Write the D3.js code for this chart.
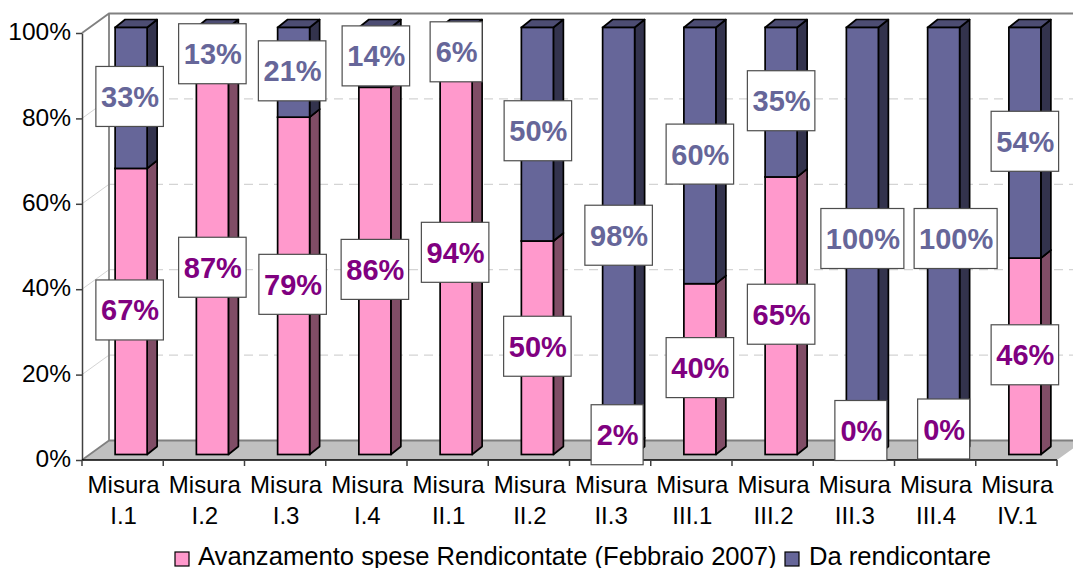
<!DOCTYPE html>
<html>
<head>
<meta charset="utf-8">
<script src="https://cdnjs.cloudflare.com/ajax/libs/d3/7.8.5/d3.min.js"></script>
<style>
  html, body { margin: 0; padding: 0; background: #fff; overflow: hidden; }
  svg { display: block; }
  text { font-family: "Liberation Sans", Arial, sans-serif; }
</style>
</head>
<body>
<svg id="chart" width="1073" height="568"></svg>
<script>
const categories = ['I.1', 'I.2', 'I.3', 'I.4', 'II.1', 'II.2', 'II.3', 'III.1', 'III.2', 'III.3', 'III.4', 'IV.1'];
const spese = [67, 87, 79, 86, 94, 50, 2, 40, 65, 0, 0, 46];
const rendicontare = [33, 13, 21, 14, 6, 50, 98, 60, 35, 100, 100, 54];
const yTicks = [0, 20, 40, 60, 80, 100];
const seriesNames = ['Avanzamento spese Rendicontate (Febbraio 2007)', 'Da rendicontare'];

const pink = '#ff99cc', pinkSide = '#804d66', pinkTop = '#bf7399';
const blue = '#666699', blueSide = '#33334d', blueTop = '#4d4d73';
const pinkText = '#800080';

// 3d offsets of the box and of each bar
const depthX = 27, depthY = -19.5;
const barDepthX = 10, barDepthY = -8;
const barWidth = 32;
const barShift = 8.5;

const svg = d3.select('#chart');

const x = d3.scaleBand().domain(categories).range([82, 1057]);
const y = d3.scaleLinear().domain([0, 100]).range([460, 33]);
// the bars stand a bit inside the floor
const yBar = d3.scaleLinear().domain([0, 100]).range([454.5, 27.5]);

const left = x.range()[0], right = x.range()[1];

// floor, walls, gridlines
const wall = svg.append('g');
wall.append('path')
  .attr('d', `M${left},${y(0)} L${left + depthX},${y(0) + depthY} L${right + depthX},${y(0) + depthY} L${right},${y(0)} Z`)
  .attr('fill', '#c0c0c0');

yTicks.filter(d => d > 0 && d < 100).forEach(d => {
  wall.append('path')
    .attr('d', `M${left},${y(d)} L${left + depthX},${y(d) + depthY}`)
    .attr('fill', 'none').attr('stroke', '#d4d4d4').attr('stroke-width', 1);
  wall.append('path')
    .attr('d', `M${left + depthX},${y(d) + depthY} L${right + depthX},${y(d) + depthY}`)
    .attr('fill', 'none').attr('stroke', '#d4d4d4').attr('stroke-width', 1.2).attr('stroke-dasharray', '9 6');
});

wall.append('path')
  .attr('d', `M${left},${y(100)} L${left + depthX},${y(100) + depthY} L${right + depthX},${y(100) + depthY}`)
  .attr('fill', 'none').attr('stroke', '#808080').attr('stroke-width', 1.8);
wall.append('path')
  .attr('d', `M${left + depthX},${y(100) + depthY} L${left + depthX},${y(0) + depthY} L${right + depthX},${y(0) + depthY} M${left},${y(0)} L${left + depthX},${y(0) + depthY}`)
  .attr('fill', 'none').attr('stroke', '#808080').attr('stroke-width', 1.8);

// bars
function barCenter(cat) {
  return x(cat) + x.bandwidth() / 2 + barShift;
}

function drawBox(g, cat, from, to, front, side, top) {
  if (from === to) return;
  const x0 = barCenter(cat) - barWidth / 2;
  const x1 = x0 + barWidth;
  const y0 = yBar(from), y1 = yBar(to);
  g.append('path')
    .attr('d', `M${x1},${y0} L${x1 + barDepthX},${y0 + barDepthY} L${x1 + barDepthX},${y1 + barDepthY} L${x1},${y1} Z`)
    .attr('fill', side).attr('stroke', '#000').attr('stroke-width', 1.7).attr('stroke-linejoin', 'round');
  g.append('path')
    .attr('d', `M${x0},${y1} L${x0 + barDepthX},${y1 + barDepthY} L${x1 + barDepthX},${y1 + barDepthY} L${x1},${y1} Z`)
    .attr('fill', top).attr('stroke', '#000').attr('stroke-width', 1.7).attr('stroke-linejoin', 'round');
  g.append('rect').attr('x', x0).attr('y', y1).attr('width', barWidth).attr('height', y0 - y1)
    .attr('fill', front).attr('stroke', '#000').attr('stroke-width', 1.7);
}

const bars = svg.append('g');
categories.forEach((c, i) => {
  drawBox(bars, c, 0, spese[i], pink, pinkSide, pinkTop);
  drawBox(bars, c, spese[i], spese[i] + rendicontare[i], blue, blueSide, blueTop);
});

// axes
const yAxis = d3.axisLeft(y).tickValues(yTicks).tickFormat(d => d + '%').tickSize(6).tickSizeOuter(0);
const yG = svg.append('g').attr('transform', `translate(${left},0)`).call(yAxis);
yG.select('.domain').attr('stroke', '#404040').attr('stroke-width', 1.5);
yG.selectAll('line').attr('stroke', '#404040').attr('stroke-width', 1.5);
yG.selectAll('text').attr('font-size', 24.5).attr('fill', '#000').attr('x', -11).attr('dy', '0.27em')
  .attr('font-family', '"Liberation Sans", Arial, sans-serif');

const xG = svg.append('g').attr('transform', `translate(0,${y(0)})`);
xG.append('line').attr('x1', left).attr('x2', right).attr('stroke', '#000').attr('stroke-width', 1.5);
d3.range(categories.length + 1).forEach(i => {
  const px = left + i * x.step();
  xG.append('line').attr('x1', px).attr('x2', px).attr('y1', 0).attr('y2', 6).attr('stroke', '#404040').attr('stroke-width', 1.5);
});
categories.forEach(c => {
  const cx = x(c) + x.bandwidth() / 2 + 1;
  xG.append('text').attr('x', cx).attr('y', 33).attr('text-anchor', 'middle').attr('font-size', 24).text('Misura');
  xG.append('text').attr('x', cx).attr('y', 64).attr('text-anchor', 'middle').attr('font-size', 24).text(c);
});

// data labels, some were dragged by hand in the original
const pinkNudge = { 'I.1': [-1.5, 0], 'I.3': [-1, 0], 'II.1': [-1, 0], 'II.3': [-1.5, -14], 'III.3': [-1.5, -22.5], 'III.4': [0, -24] };
const blueNudge = { 'I.1': [-1.5, 0], 'I.3': [-1.5, 0], 'I.4': [1, 0], 'II.1': [0, 13], 'II.2': [0.5, -2], 'III.3': [0, -1], 'III.4': [12, -1] };
const labels = svg.append('g');

function drawLabel(cat, from, value, color, nudge) {
  const n = nudge[cat] || [0, 0];
  const cx = barCenter(cat) + n[0];
  const cy = yBar(from + value / 2) - 1.5 + n[1];
  const w = value >= 100 ? 83 : value >= 10 ? 67.5 : 52;
  const h = 60;
  labels.append('rect').attr('x', cx - w / 2).attr('y', cy - h / 2).attr('width', w).attr('height', h)
    .attr('fill', '#fff').attr('stroke', '#4d4d4d').attr('stroke-width', 1.2);
  labels.append('text').attr('x', cx + 0.5).attr('y', cy + 10.5).attr('text-anchor', 'middle')
    .attr('font-size', 29).attr('font-weight', 'bold').attr('fill', color).text(value + '%');
}

categories.forEach((c, i) => {
  drawLabel(c, 0, spese[i], pinkText, pinkNudge);
  drawLabel(c, spese[i], rendicontare[i], blue, blueNudge);
});

// legend
const legend = svg.append('g');
[[175, pink, 198, seriesNames[0]], [785, blue, 809, seriesNames[1]]].forEach(d => {
  legend.append('rect').attr('x', d[0]).attr('y', 552).attr('width', 14).attr('height', 14)
    .attr('fill', d[1]).attr('stroke', '#000').attr('stroke-width', 1.2);
  legend.append('text').attr('x', d[2]).attr('y', 565).attr('font-size', 25.6).text(d[3]);
});
</script>
</body>
</html>
